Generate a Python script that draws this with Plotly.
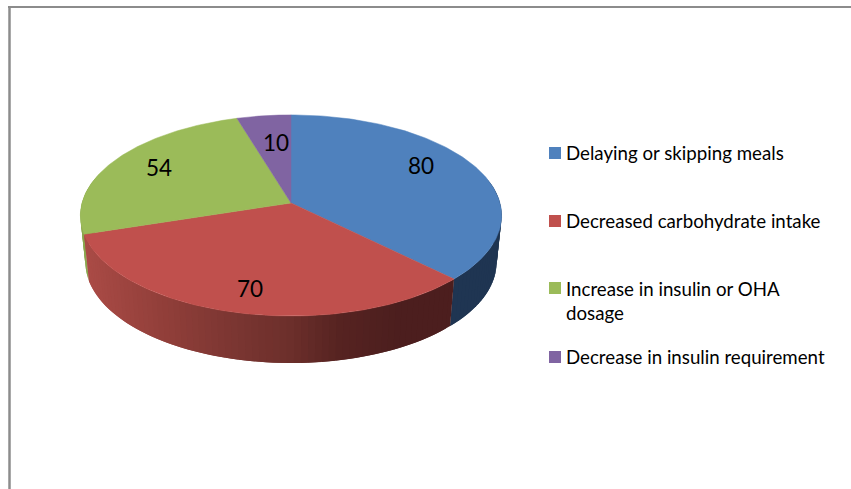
import numpy as np
import plotly.graph_objects as go

categories = ["Delaying or skipping meals", "Decreased carbohydrate intake",
              "Increase in insulin or OHA<br>dosage", "Decrease in insulin requirement"]
values = [80, 70, 54, 10]
top_colors = ["#4F81BD", "#C0504D", "#9BBB59", "#8064A2"]

W, H = 851, 489
FONT = "Lato"
CX, CY, RX, RY, K = 291, 203, 209, 99, 0.124
DROP, SHRINK = 47, 0.976


def project(theta, r=1.0, wall=False):
    u, v = r * np.sin(theta), r * np.cos(theta)
    d = 1 + K * v
    if wall:
        return CX + SHRINK * RX * u / d, CY + DROP - RY * v / d
    return CX + RX * u / d, CY - RY * v / d


def wall_color(i, x):
    stops = [84, 160, 230, 290, 340, 400, 455]
    if i == 1:
        r = np.interp(x, stops, [170, 146, 124, 108, 86, 76, 76])
        g = np.interp(x, stops, [75, 63, 54, 47, 35, 30, 30])
        b = np.interp(x, stops, [70, 58, 50, 43, 33, 30, 30])
        return f"rgb({r:.0f},{g:.0f},{b:.0f})"
    if i == 0:
        return "#1F3552"
    if i == 2:
        return "#8AA64E"
    return "#5F4B7A"


frac = np.cumsum([0] + values) / sum(values) * 2 * np.pi
fig = go.Figure()

# side wall, in overlapping strips so the shading can vary without seams
STEP = 0.03
for i in [0, 2, 1]:
    a = frac[i]
    while a < frac[i + 1]:
        b = min(a + STEP, frac[i + 1])
        over = min(b + STEP, frac[i + 1])
        if np.cos((a + b) / 2) < 0.25:
            th = np.array([a, b, over])
            xt, yt = project(th)
            xb, yb = project(th[::-1], wall=True)
            c = wall_color(i, float(xt[:2].mean()))
            fig.add_trace(go.Scatter(x=[*xt, *xb, xt[0]], y=[*yt, *yb, yt[0]], mode="lines",
                                     fill="toself", fillcolor=c, line=dict(color=c, width=0),
                                     hoverinfo="skip", showlegend=False))
        a = b

# top face
for i, v in enumerate(values):
    th = np.linspace(frac[i], frac[i + 1], 120)
    x, y = project(th)
    fig.add_trace(go.Scatter(x=[CX, *x, CX], y=[CY, *y, CY], mode="lines", fill="toself",
                             fillcolor=top_colors[i], line=dict(color=top_colors[i], width=0.5),
                             name=categories[i], hoverinfo="skip", showlegend=False))

# data labels
label_shift = [(-1, -12), (-4, 11.5), (-8, -4), (5, 3)]
annotations = []
for i, v in enumerate(values):
    x, y = project((frac[i] + frac[i + 1]) / 2, r=0.7)
    annotations.append(dict(x=x, y=y, text=str(v), showarrow=False, xanchor="center", yanchor="middle",
                            xshift=label_shift[i][0], yshift=-label_shift[i][1],
                            font=dict(family=FONT, size=22.5, color="#000000")))

# legend
legend_y = [153, 221, 288, 357]
fig.add_trace(go.Scatter(x=[555] * 4, y=legend_y, mode="markers", hoverinfo="skip", showlegend=False,
                         marker=dict(symbol="square", size=12, color=top_colors, line=dict(width=0))))
for name, y in zip(categories, legend_y):
    lines = name.count("<br>")
    annotations.append(dict(x=563.5, y=y + lines * 12.5, text=name, showarrow=False, xanchor="left",
                            yanchor="middle", align="left",
                            font=dict(family=FONT, size=18.7, color="#000000")))

fig.update_layout(
    width=W, height=H, margin=dict(l=0, r=0, t=0, b=0), autosize=False,
    paper_bgcolor="#FFFFFF", plot_bgcolor="#FFFFFF", showlegend=False,
    xaxis=dict(range=[0, W], visible=False, fixedrange=True),
    yaxis=dict(range=[H, 0], visible=False, fixedrange=True),
    annotations=annotations,
    shapes=[dict(type="line", x0=8, x1=W, y0=7, y1=7, line=dict(color="#8C8C8C", width=2)),
            dict(type="line", x0=9.5, x1=9.5, y0=6, y1=H, line=dict(color="#8C8C8C", width=2.5))],
)
fig.write_html("out.html", config={"displayModeBar": False},
               post_script="document.body.style.margin='0';document.body.style.overflow='hidden';")
